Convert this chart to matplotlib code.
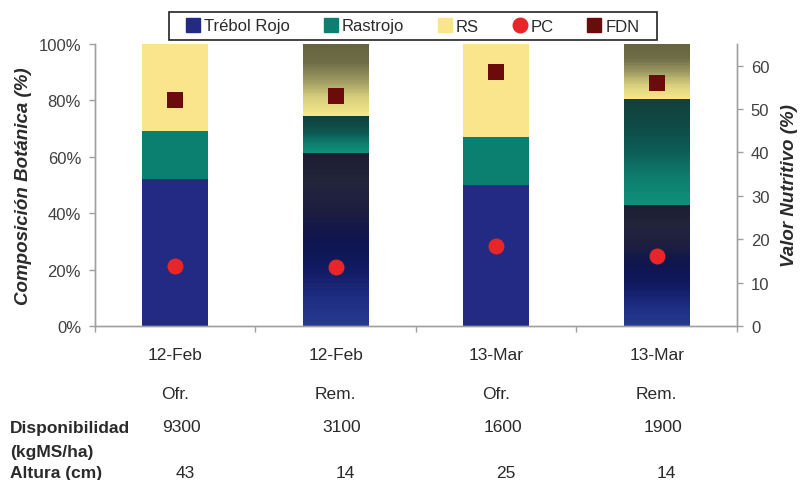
import numpy as np
import matplotlib
matplotlib.use("Agg")
import matplotlib.pyplot as plt
from matplotlib.colors import LinearSegmentedColormap
from matplotlib.lines import Line2D
from matplotlib.patches import Rectangle
import matplotlib.transforms as mtransforms

plt.rcParams['font.family'] = ['Liberation Sans', 'DejaVu Sans']

# ---- data ----
fechas = ["12-Feb", "12-Feb", "13-Mar", "13-Mar"]
estados = ["Ofr.", "Rem.", "Ofr.", "Rem."]
trebol = [52.0, 61.5, 50.0, 43.0]      # % composición
rastrojo = [17.0, 13.0, 17.0, 37.5]
rs = [31.0, 25.5, 33.0, 19.5]
pc = [13.9, 13.5, 18.4, 16.2]          # % valor nutritivo
fdn = [52.0, 53.0, 58.5, 56.1]
disponibilidad = ["9300", "3100", "1600", "1900"]
altura = ["43", "14", "25", "14"]
remanente = [False, True, False, True]  # remanente bars drawn with shaded fill

c_trebol = "#232a84"
c_rastrojo = "#0c8070"
c_rs = "#fbe58c"
c_pc = "#e8262a"
c_fdn = "#6b0b0b"
c_axis = "#a0a0a0"
c_text = "#2a2a2a"

W, H = 803, 481
fig = plt.figure(figsize=(W / 100, H / 100), dpi=100)
ax = fig.add_axes([95 / W, 1 - 327 / H, (737 - 95) / W, (327 - 45) / H])
ax2 = ax.twinx()

x = np.arange(len(fechas))
w = 0.41
b_tr = ax.bar(x, np.array(trebol) / 100, w, color=c_trebol, zorder=2)
b_ra = ax.bar(x, np.array(rastrojo) / 100, w, bottom=np.array(trebol) / 100,
              color=c_rastrojo, zorder=2)
b_rs = ax.bar(x, np.array(rs) / 100, w,
              bottom=(np.array(trebol) + np.array(rastrojo)) / 100,
              color=c_rs, zorder=2)

# shaded fills for remanente bars (top dark -> bottom light)
cmaps = {
    "tr": LinearSegmentedColormap.from_list(
        "tr", ["#27398f", "#1d2c80", "#111a60", "#0f154f", "#1c1e40",
               "#23253c", "#1c1d33"]),
    "ra": LinearSegmentedColormap.from_list(
        "ra", ["#10907c", "#0f7e6e", "#0d5f57", "#0f4b46", "#12403d"]),
    "rs": LinearSegmentedColormap.from_list(
        "rs", ["#f7e98a", "#d9cf7c", "#9c9862", "#6f6d48", "#67653f"]),
}
n_bands = 40
for key, bars in (("tr", b_tr), ("ra", b_ra), ("rs", b_rs)):
    for i, patch in enumerate(bars):
        if not remanente[i]:
            continue
        x0, y0 = patch.get_x(), patch.get_y()
        x1, y1 = x0 + patch.get_width(), y0 + patch.get_height()
        grad = np.linspace(0, 1, n_bands).reshape(-1, 1)
        im = ax.imshow(grad, cmap=cmaps[key], extent=[x0, x1, y0, y1],
                       origin="lower", aspect="auto", interpolation="nearest",
                       zorder=2.5)
        im.set_clip_path(patch)

ax.set_xlim(-0.5, len(fechas) - 0.5)
ax.set_ylim(0, 1)
ax.set_yticks(np.linspace(0, 1, 6))
ax.set_yticklabels([f"{int(v)}%" for v in np.linspace(0, 100, 6)])
ax.set_xticks(np.arange(-0.5, len(fechas), 1.0))
ax.set_xticklabels([])

ax2.set_ylim(0, 65)
ax2.set_yticks(np.arange(0, 61, 10))

ax2.plot(x, pc, linestyle="none", marker="o", markersize=11.5,
         color=c_pc, markeredgewidth=0, zorder=5)
ax2.plot(x, fdn, linestyle="none", marker="s", markersize=12,
         color=c_fdn, markeredgewidth=0, zorder=5)

for a in (ax, ax2):
    a.spines["top"].set_visible(False)
    for s in ("left", "right", "bottom"):
        a.spines[s].set_color(c_axis)
        a.spines[s].set_linewidth(1.0)
    a.tick_params(colors=c_axis, labelcolor="#404040", labelsize=12,
                  length=4, width=1.0, direction="out", pad=6)
ax.set_facecolor("none")

ax.set_ylabel("Composición Botánica (%)", fontsize=13.5, fontweight="bold",
              fontstyle="italic", color=c_text, labelpad=5)
ax2.set_ylabel("Valor Nutritivo (%)", fontsize=13.5, fontweight="bold",
               fontstyle="italic", color=c_text, labelpad=8)

# legend (entries centred inside a drawn box)
handles = [
    Line2D([], [], linestyle="none", marker="s", markersize=9.5, color=c_trebol),
    Line2D([], [], linestyle="none", marker="s", markersize=9.5, color=c_rastrojo),
    Line2D([], [], linestyle="none", marker="s", markersize=9.5, color=c_rs),
    Line2D([], [], linestyle="none", marker="o", markersize=10.5, color=c_pc),
    Line2D([], [], linestyle="none", marker="s", markersize=9.5, color=c_fdn),
]
labels = ["Trébol Rojo", "Rastrojo", "RS", "PC", "FDN"]
leg = fig.legend(handles, labels, ncol=5, loc="center",
                 bbox_to_anchor=(413 / W, 1 - 27 / H),
                 frameon=False, fontsize=12,
                 handlelength=0.8, handletextpad=0.25, columnspacing=2.05,
                 borderpad=0.3)
for t in leg.get_texts():
    t.set_color(c_text)
fig.patches.append(Rectangle((169 / W, 1 - 41 / H), (657 - 169) / W, 28 / H,
                             transform=fig.transFigure, fill=False,
                             edgecolor="#222222", linewidth=1.2))

# table under the chart
trans = mtransforms.blended_transform_factory(ax.transData, fig.transFigure)
def fy(py):
    return 1 - py / H

fs = 12.5
for i in range(len(fechas)):
    ax.text(x[i], fy(356), fechas[i], transform=trans, ha="center", va="center",
            fontsize=fs, color=c_text)
    ax.text(x[i], fy(395), estados[i], transform=trans, ha="center", va="center",
            fontsize=fs, color=c_text)
    ax.text(x[i] + 0.04, fy(428), disponibilidad[i], transform=trans, ha="center",
            va="center", fontsize=fs, color=c_text)
    ax.text(x[i] + 0.06, fy(474), altura[i], transform=trans, ha="center",
            va="center", fontsize=fs, color=c_text)

fig.text(10 / W, fy(428), "Disponibilidad", ha="left", va="center",
         fontsize=fs, fontweight="bold", color=c_text)
fig.text(10 / W, fy(452), "(kgMS/ha)", ha="left", va="center",
         fontsize=fs, fontweight="bold", color=c_text)
fig.text(10 / W, fy(474), "Altura (cm)", ha="left", va="center",
         fontsize=fs, fontweight="bold", color=c_text)

fig.savefig("out.png", dpi=100, facecolor="white")
